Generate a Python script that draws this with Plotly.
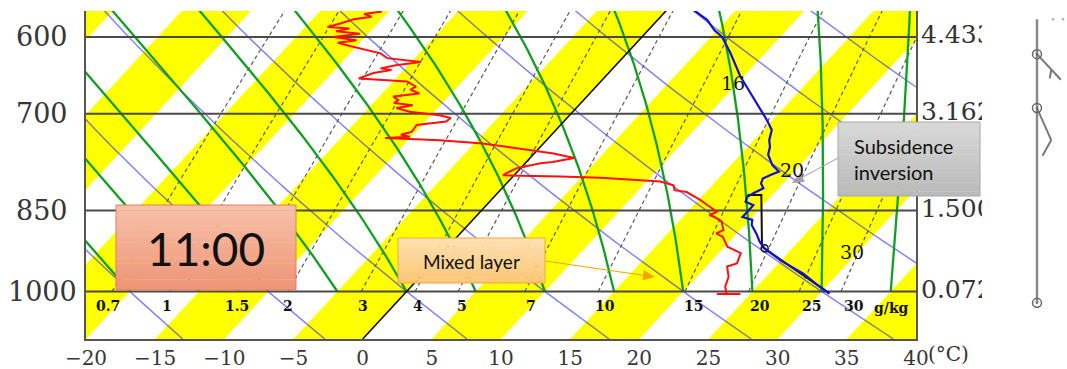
import numpy as np
import plotly.graph_objects as go

# ---------------- page geometry (px) ----------------
FIG_W, FIG_H = 1067, 369
M_L, M_T, M_B = 86, 11, 30
AREA_W = FIG_W - M_L
AREA_H = FIG_H - M_T - M_B
DIAGRAM_RIGHT = 916
LABEL_RIGHT = 982
BARB_LEFT = 990


def paper_x(px):
    return (px - M_L) / AREA_W


def paper_y(py):
    return (FIG_H - M_B - py) / AREA_H


# ---------------- diagram definition ----------------
P_BOTTOM, P_TOP = 1100.0, 569.5
T_LEFT, T_RIGHT = -20.0, 40.0
SKEW = 33.3  # deg C of horizontal shift per unit of ln(p)
PX_PER_DEG = (DIAGRAM_RIGHT - M_L) / (T_RIGHT - T_LEFT)

ISOBARS = [600, 700, 850, 1000]
HEIGHT_LABELS = ["4.433", "3.162", "1.500", "0.072"]
T_TICKS = list(range(-20, 45, 5))
T_TICKTEXT = [str(t).replace("-", "\u2212") for t in T_TICKS]
BAND_STARTS = list(range(-45, 40, 10))      # yellow 5-degree isotherm bands
DRY_THETA = list(range(-30, 80, 10))        # dry adiabats, theta in deg C
MOIST_THETA_W = list(range(-20, 40, 5))     # pseudo-adiabats, theta-w in deg C
MIX_RATIOS = [0.7, 1, 1.5, 2, 3, 4, 5, 7, 10, 15, 20, 25, 30]
MIX_LABELS = ["0.7", "1", "1.5", "2", "3", "4", "5", "7", "10", "15", "20", "25", "30"]

INLINE_TEXT = ["16", "20", "30"]
INLINE_X = [26.8, 31.0, 35.4]
INLINE_P = [658, 784, 924]

# ---------------- sounding ----------------
temp_p = [566, 580, 592, 600, 620, 641, 650, 663, 681, 695, 709, 723, 738, 748, 760, 776,
          786, 792, 797, 805, 813, 821, 827, 835, 841, 849, 861, 866, 875, 890, 905, 917,
          940, 965, 985, 1004]
temp_t = [1.6, 3.6, 4.8, 5.8, 7.5, 9.1, 9.8, 10.9, 12.4, 13.5, 14.6, 15.6, 16.1, 16.6, 17.0, 18.0,
          18.9, 18.5, 18.2, 18.4, 18.9, 18.5, 18.3, 18.5, 19.3, 19.3, 19.3, 20.2, 20.5, 21.4, 22.2, 23.0,
          25.0, 27.5, 29.1, 30.7]

dew_p = [570, 573, 576, 579, 584, 588, 590, 593, 596, 600, 604, 607, 611, 616, 620, 626,
         630, 631, 635, 639, 641, 645, 652, 654, 656, 663, 667, 672, 676, 681, 685, 688,
         692, 697, 702, 706, 711, 716, 726, 730, 733, 735, 738, 743, 750, 758, 765, 771,
         773, 781, 789, 792, 794, 796, 800, 802, 808, 816, 819, 832, 844, 852, 858, 863,
         869, 884, 890, 896, 914, 926, 945, 951, 971, 990, 1005, 1005, 1005]
dew_t = [-20.5, -21.6, -20.9, -22.0, -22.7, -23.4, -21.7, -22.5, -20.6, -22.3, -20.4, -21.6, -20.5, -19.1, -17.8, -17.0,
         -15.1, -14.3, -15.9, -16.8, -15.9, -17.0, -17.7, -16.1, -14.0, -13.0, -13.2, -12.3, -14.0, -13.4, -13.5, -12.0,
         -13.0, -11.8, -9.4, -8.4, -8.5, -10.4, -10.3, -10.9, -10.1, -11.8, -7.7, -4.4, -1.6, 1.4, 3.2, 1.9,
         1.1, -0.3, -0.7, -0.8, 3.4, 6.4, 9.5, 11.0, 12.2, 12.6, 13.6, 15.1, 16.3, 17.1, 16.8, 17.5,
         18.1, 18.8, 18.5, 19.2, 20.2, 21.6, 22.0, 21.5, 22.3, 22.7, 23.3, 22.6, 24.3]

parcel_p = [1004, 917, 914, 824, 824]
parcel_t = [30.7, 23.0, 22.7, 19.2, 18.2]

wind_p = [621, 692]
wind_dir = [137, 156]
wind_kt = [5, 10]
station_top_p, station_sfc_p = 579, 1023


# ---------------- thermodynamics ----------------
LV = 2.39e6   # latent heat used for the printed pseudo-adiabats


def skew_x(t, p):
    return np.asarray(t, float) + SKEW * np.log(P_BOTTOM / np.asarray(p, float))


def sat_vp(tc):
    return 6.112 * np.exp(17.67 * tc / (tc + 243.5))


def dewpoint_from_w(w, p):
    e = w * p / (622.0 + w)
    a = np.log(e / 6.112)
    return 243.5 * a / (17.67 - a)


def moist_lapse(p, tk):
    es = sat_vp(tk - 273.15)
    rs = 0.622 * es / (p - es)
    num = (287.04 * tk + LV * rs) / p
    den = 1005.7 + (LV ** 2 * rs * 0.622) / (287.04 * tk * tk)
    return num / den


def moist_adiabat(theta_w, levels):
    tk = theta_w + 273.15
    out = [tk]
    for p0, p1 in zip(levels[:-1], levels[1:]):
        h = p1 - p0
        k1 = moist_lapse(p0, tk)
        k2 = moist_lapse(p0 + h / 2, tk + h * k1 / 2)
        k3 = moist_lapse(p0 + h / 2, tk + h * k2 / 2)
        k4 = moist_lapse(p1, tk + h * k3)
        tk += h * (k1 + 2 * k2 + 2 * k3 + k4) / 6
        out.append(tk)
    return np.array(out) - 273.15


def joined(parts):
    xs, ys = [], []
    for x, y in parts:
        xs += list(x) + [None]
        ys += list(y) + [None]
    return xs, ys


fig = go.Figure()
main = dict(xaxis="x", yaxis="y", hoverinfo="skip", showlegend=False)

# yellow isotherm bands
p_hi = 560.0
for t0 in BAND_STARTS:
    bx = [t0, t0 + 5, float(skew_x(t0 + 5, p_hi)), float(skew_x(t0, p_hi)), t0]
    by = [P_BOTTOM, P_BOTTOM, p_hi, p_hi, P_BOTTOM]
    fig.add_trace(go.Scatter(x=bx, y=by, mode="lines", fill="toself", fillcolor="#ffff00",
                             line=dict(width=0), **main))

# dry adiabats
p_dry = np.linspace(P_BOTTOM, p_hi, 50)
parts = []
for th in DRY_THETA:
    t = (th + 273.15) * (p_dry / 1000.0) ** 0.2857 - 273.15
    parts.append((skew_x(t, p_dry), p_dry))
xs, ys = joined(parts)
fig.add_trace(go.Scatter(x=xs, y=ys, mode="lines", line=dict(color="rgba(0,0,255,0.5)", width=1.4), **main))

# saturation mixing-ratio lines
p_mix = np.linspace(1000.0, p_hi, 30)
parts = [(skew_x(dewpoint_from_w(w, p_mix), p_mix), p_mix) for w in MIX_RATIOS]
xs, ys = joined(parts)
fig.add_trace(go.Scatter(x=xs, y=ys, mode="lines",
                         line=dict(color="#5a5a5a", width=1.2, dash="4px,3px"), **main))

# pseudo-adiabats
p_moist = np.arange(1000.0, p_hi - 1, -5.0)
parts = [(skew_x(moist_adiabat(tw, p_moist), p_moist), p_moist) for tw in MOIST_THETA_W]
xs, ys = joined(parts)
fig.add_trace(go.Scatter(x=xs, y=ys, mode="lines", line=dict(color="#10a020", width=2.3), **main))

# isobars
parts = [([T_LEFT, T_RIGHT], [p, p]) for p in ISOBARS]
xs, ys = joined(parts)
fig.add_trace(go.Scatter(x=xs, y=ys, mode="lines", line=dict(color="#4a4a4a", width=2), **main))

# 0 deg C isotherm
fig.add_trace(go.Scatter(x=skew_x([0, 0], [P_BOTTOM, p_hi]), y=[P_BOTTOM, p_hi], mode="lines",
                         line=dict(color="#111111", width=1.6), **main))

# lifted parcel path
fig.add_trace(go.Scatter(x=skew_x(parcel_t, parcel_p), y=parcel_p, mode="lines",
                         line=dict(color="#111111", width=2), **main))
fig.add_trace(go.Scatter(x=skew_x(parcel_t[1:2], parcel_p[1:2]), y=parcel_p[1:2], mode="markers",
                         marker=dict(symbol="circle-open", size=7, color="#111111", line=dict(width=1.5)),
                         **main))

# dewpoint and temperature profiles
fig.add_trace(go.Scatter(x=skew_x(dew_t, dew_p), y=dew_p, mode="lines",
                         line=dict(color="#ff1010", width=2), **main))
fig.add_trace(go.Scatter(x=skew_x(temp_t, temp_p), y=temp_p, mode="lines",
                         line=dict(color="#1010d8", width=2.2), **main))

# heights (km) of the isobars, clipped at the frame edge
fig.add_trace(go.Scatter(x=[5] * len(ISOBARS), y=ISOBARS, text=HEIGHT_LABELS, mode="text",
                         textposition="middle right", cliponaxis=True,
                         textfont=dict(family="DejaVu Serif", size=25, color="#333333"),
                         xaxis="x2", yaxis="y2", hoverinfo="skip", showlegend=False))

# ---------------- wind barbs ----------------
POLE_X, SHAFT, FULL, HALF, BARB_ANGLE = 1037.0, 35.0, 18.0, 9.0, np.radians(53)
PX_PER_LN = AREA_H / np.log(P_BOTTOM / P_TOP)


def shift_p(p, dy):
    return p * np.exp(dy / PX_PER_LN)


bxs, bys = [], []
ca, sa = np.cos(BARB_ANGLE), np.sin(BARB_ANGLE)
for p, bearing, kt in zip(wind_p, wind_dir, wind_kt):
    b = np.radians(bearing)
    ux, uy = np.sin(b), -np.cos(b)
    bxs += [POLE_X, POLE_X + ux * SHAFT, None]
    bys += [p, shift_p(p, uy * SHAFT), None]
    rx, ry = ux * ca - uy * sa, ux * sa + uy * ca
    n_full, has_half = kt // 10, (kt % 10) >= 5
    ticks = [FULL] * n_full
    if has_half:
        ticks.append(HALF)
    for k, length in enumerate(ticks):
        f = 0.6 if (n_full == 0) else 1.0 - 0.15 * k
        sx, sy = ux * SHAFT * f, uy * SHAFT * f
        bxs += [POLE_X + sx, POLE_X + sx + rx * length, None]
        bys += [shift_p(p, sy), shift_p(p, sy + ry * length), None]

barb = dict(xaxis="x3", yaxis="y3", hoverinfo="skip", showlegend=False)
fig.add_trace(go.Scatter(x=[POLE_X, POLE_X], y=[station_top_p, station_sfc_p], mode="lines",
                         line=dict(color="#8a8a8a", width=2.5), **barb))
fig.add_trace(go.Scatter(x=bxs, y=bys, mode="lines", line=dict(color="#7a7a7a", width=2), **barb))
fig.add_trace(go.Scatter(x=[POLE_X] * 3, y=wind_p + [station_sfc_p], mode="markers",
                         marker=dict(symbol="circle-open-dot", size=9, color="#666666", line=dict(width=1.5)),
                         **barb))
fig.add_trace(go.Scatter(x=[POLE_X + 16, POLE_X + 26], y=[station_top_p] * 2, mode="markers",
                         marker=dict(size=2.5, color="#b0b0b0"), **barb))

# ---------------- annotations ----------------
ann = []
for p in ISOBARS:
    ann.append(dict(xref="paper", yref="y", x=paper_x(42), y=np.log10(p), text=str(p),
                    showarrow=False, xanchor="center", yanchor="middle",
                    font=dict(family="DejaVu Serif", size=27, color="#363636")))
for w, lab in zip(MIX_RATIOS, MIX_LABELS):
    xw = float(skew_x(dewpoint_from_w(w, 1000.0), 1000.0))
    px_w = M_L + (xw - T_LEFT) * PX_PER_DEG
    ann.append(dict(xref="x", yref="y", x=xw, y=3.0, yshift=-14,
                    xshift=round(0.0234 * (px_w - 113) - 4),
                    text="<b>%s</b>" % lab, showarrow=False,
                    xanchor="center", yanchor="middle",
                    font=dict(family="DejaVu Serif", size=14, color="#111111")))
ann.append(dict(xref="paper", yref="y", x=paper_x(891), y=3.0, yshift=-16, text="<b>g/kg</b>",
                showarrow=False, xanchor="center", yanchor="middle",
                font=dict(family="DejaVu Serif", size=14, color="#111111")))
for txt, x, p in zip(INLINE_TEXT, INLINE_X, INLINE_P):
    ann.append(dict(xref="x", yref="y", x=x, y=np.log10(p), text=txt, showarrow=False,
                    xanchor="center", yanchor="middle",
                    font=dict(family="DejaVu Serif", size=19, color="#111111")))
ann.append(dict(xref="paper", yref="paper", x=paper_x(926), y=paper_y(354), text="(\u00b0C)",
                showarrow=False, xanchor="left", yanchor="middle",
                font=dict(family="DejaVu Serif", size=20, color="#333333")))

# call-out boxes
shapes = []


def mix(c1, c2, f):
    return "rgb(%d,%d,%d)" % tuple(round(a + (b - a) * f) for a, b in zip(c1, c2))


def gradient_box(x0, y0, x1, y1, top, bottom, border, n=16):
    for i in range(n):
        ya = y0 + (y1 - y0) * i / n
        yb = y0 + (y1 - y0) * (i + 1) / n + 0.4
        shapes.append(dict(type="rect", xref="paper", yref="paper", layer="above",
                           x0=paper_x(x0), x1=paper_x(x1), y0=paper_y(min(yb, y1)), y1=paper_y(ya),
                           fillcolor=mix(top, bottom, i / (n - 1)), line=dict(width=0)))
    shapes.append(dict(type="rect", xref="paper", yref="paper", layer="above",
                       x0=paper_x(x0), x1=paper_x(x1), y0=paper_y(y1), y1=paper_y(y0),
                       line=dict(color=border, width=1)))


def arrow(tail, tip, color, head_len=12.0, head_w=5.0, width=1.0):
    (x0, y0), (x1, y1) = tail, tip
    dx, dy = x1 - x0, y1 - y0
    n = np.hypot(dx, dy)
    ux, uy = dx / n, dy / n
    bx, by = x1 - ux * head_len, y1 - uy * head_len
    px_, py_ = -uy, ux
    shapes.append(dict(type="line", xref="paper", yref="paper", layer="above",
                       x0=paper_x(x0), y0=paper_y(y0), x1=paper_x(bx), y1=paper_y(by),
                       line=dict(color=color, width=width)))
    path = "M %f,%f L %f,%f L %f,%f Z" % (
        paper_x(x1), paper_y(y1),
        paper_x(bx + px_ * head_w), paper_y(by + py_ * head_w),
        paper_x(bx - px_ * head_w), paper_y(by - py_ * head_w))
    shapes.append(dict(type="path", xref="paper", yref="paper", layer="above", path=path,
                       fillcolor=color, line=dict(width=0)))


gradient_box(116, 205, 296, 290, (247, 192, 168), (238, 150, 120), "#e37f5c")
ann.append(dict(xref="paper", yref="paper", x=paper_x(206), y=paper_y(248), text="11:00",
                showarrow=False, xanchor="center", yanchor="middle",
                font=dict(family="Lato", size=46, color="#111111")))

gradient_box(398, 238, 545, 283, (253, 224, 176), (251, 198, 120), "#f3a544")
ann.append(dict(xref="paper", yref="paper", x=paper_x(471), y=paper_y(261), text="Mixed layer",
                showarrow=False, xanchor="center", yanchor="middle",
                font=dict(family="Lato", size=19, color="#111111")))
arrow((545, 261), (655, 277), "#f5a300")

gradient_box(838, 122, 980, 196, (216, 216, 216), (186, 186, 186), "#a8a8a8")
ann.append(dict(xref="paper", yref="paper", x=paper_x(852), y=paper_y(159),
                text="Subsidence<br>inversion", showarrow=False, xanchor="left", yanchor="middle",
                align="left", font=dict(family="Lato", size=20, color="#111111")))
arrow((838, 158), (792, 183), "#a0a0a0")

# ---------------- layout ----------------
y_range = [np.log10(P_BOTTOM), np.log10(P_TOP)]
fig.update_layout(
    template="none",
    width=FIG_W, height=FIG_H,
    margin=dict(l=M_L, r=0, t=M_T, b=M_B, pad=0),
    paper_bgcolor="white", plot_bgcolor="white",
    showlegend=False, hovermode=False,
    xaxis=dict(domain=[0, paper_x(DIAGRAM_RIGHT)], range=[T_LEFT, T_RIGHT], tickvals=T_TICKS,
               ticktext=T_TICKTEXT, ticks="", showgrid=False, zeroline=False, showline=True,
               linecolor="#555555", linewidth=1.5, automargin=False, anchor="y",
               tickfont=dict(family="DejaVu Serif", size=20, color="#363636")),
    yaxis=dict(type="log", range=y_range, domain=[0, 1], showticklabels=False, ticks="",
               showgrid=False, zeroline=False, showline=True, mirror=True,
               linecolor="#555555", linewidth=1.5, automargin=False, anchor="x"),
    xaxis2=dict(domain=[paper_x(DIAGRAM_RIGHT), paper_x(LABEL_RIGHT)], range=[0, LABEL_RIGHT - DIAGRAM_RIGHT],
                visible=False, anchor="y2"),
    yaxis2=dict(type="log", range=y_range, domain=[0, 1], visible=False, anchor="x2"),
    xaxis3=dict(domain=[paper_x(BARB_LEFT), 1], range=[BARB_LEFT, FIG_W], visible=False, anchor="y3"),
    yaxis3=dict(type="log", range=y_range, domain=[0, 1], visible=False, anchor="x3"),
    annotations=ann,
    shapes=shapes,
)

fig.write_html("out.html")
